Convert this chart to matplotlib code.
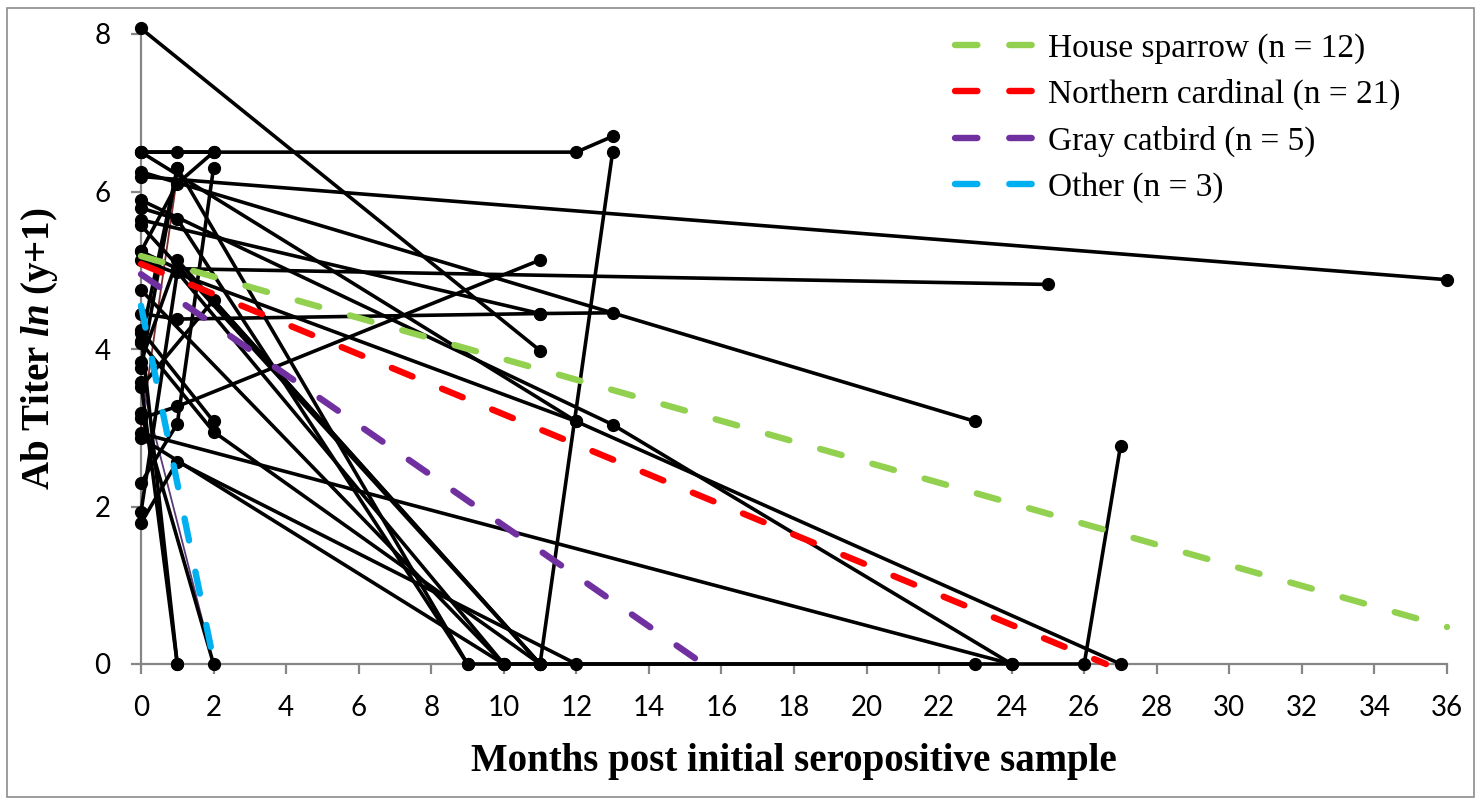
import matplotlib
matplotlib.use("Agg")
import matplotlib.pyplot as plt
from matplotlib.patches import Rectangle

plt.rcParams['font.family'] = ['Liberation Serif', 'DejaVu Serif']
plt.rcParams['mathtext.fontset'] = 'custom'
plt.rcParams['mathtext.rm'] = 'Liberation Serif:bold'
plt.rcParams['mathtext.it'] = 'Liberation Serif:bold:italic'

##### individual birds: months after first positive sample, ln(titer+1)
bird_months = [
    [0, 11], [0, 12, 13], [0, 1, 2], [0, 36], [0, 23],
    [0, 13, 24], [0, 12, 27], [0, 1, 25], [0, 1, 11, 13], [0, 11],
    [0, 1, 11], [0, 24], [0, 1, 9, 23], [0, 10, 26, 27], [0, 11, 13],
    [0, 2, 11], [0, 2], [0, 1, 12], [0, 10], [0, 1, 11],
    [0, 2, 11], [0, 1, 10], [0, 1, 9], [0, 1], [0, 1],
    [0, 2], [0, 1, 2], [0, 1], [0, 12], [0, 1, 2],
]
bird_titers = [
    [8.07, 3.98], [6.5, 6.5, 6.7], [6.5, 6.5, 6.5], [6.19, 4.88], [6.25, 3.08],
    [5.89, 3.04, 0], [6.5, 3.08, 0], [5.24, 5.02, 4.82], [4.45, 4.38, 4.45, 4.46], [5.64, 4.45],
    [3.12, 3.27, 5.13], [2.93, 0], [5.79, 5.65, 0, 0], [4.75, 0, 0, 2.77], [5.57, 0, 6.5],
    [4.08, 2.95, 0], [4.24, 3.08], [1.79, 2.57, 0], [2.87, 0], [3.84, 5.13, 0],
    [3.52, 4.62, 0], [1.93, 4.98, 0], [3.76, 6.3, 0], [4.2, 0], [3.58, 0],
    [3.19, 0], [2.3, 3.05, 6.3], [4.1, 6.3], [5.13, 3.08], [5.24, 6.1, 6.5],
]

# two birds drawn in thin colour in the original
thin_months = [[0, 1], [0, 2]]
thin_titers = [[3.0, 6.2], [3.6, 0]]
thin_colors = ['#7b2c2c', '#5a3a78']

# species trend lines (end points)
species = ['House sparrow (n = 12)', 'Northern cardinal (n = 21)',
           'Gray catbird (n = 5)', 'Other (n = 3)']
trend_x = [[0, 36], [0, 26.6], [0, 15.5], [0, 2.02]]
trend_y = [[5.18, 0.47], [5.08, 0], [4.95, 0], [4.55, 0]]
trend_colors = ['#92d050', '#ff0000', '#7030a0', '#00b0f0']

W, H = 1479, 801
fig = plt.figure(figsize=(W / 100, H / 100), dpi=100)
ax = fig.add_axes([141 / W, (H - 664) / H, (1447 - 141) / W, (664 - 34) / H])

for mx, ty in zip(bird_months, bird_titers):
    ax.plot(mx, ty, color='black', lw=2.6, marker='o', ms=8.5,
            clip_on=False, zorder=3)
for mx, ty, c in zip(thin_months, thin_titers, thin_colors):
    ax.plot(mx, ty, color=c, lw=1.3, clip_on=False, zorder=2.8)

handles = []
for mx, ty, c, lab in zip(trend_x, trend_y, trend_colors, species):
    ln, = ax.plot(mx, ty, color=c, lw=4.6, dashes=(3.5, 5.0),
                  dash_capstyle='round', label=lab, clip_on=False, zorder=4)
    handles.append(ln)

ax.set_xlim(0, 36)
ax.set_ylim(0, 8)
ax.set_xticks(range(0, 37, 2))
ax.set_yticks(range(0, 9, 2))
for s in ['top', 'right']:
    ax.spines[s].set_visible(False)
for s in ['left', 'bottom']:
    ax.spines[s].set_color('#868686')
    ax.spines[s].set_linewidth(1.6)
    ax.spines[s].set_zorder(1)
ax.tick_params(axis='both', direction='out', length=7, width=1.6, color='#868686')
ax.tick_params(axis='x', pad=15)
ax.tick_params(axis='y', pad=15)
for lab in ax.get_xticklabels() + ax.get_yticklabels():
    lab.set_fontfamily('Lato')
    lab.set_fontsize(20)

ax.set_xlabel('Months post initial seropositive sample', fontsize=28, fontweight='bold')
ax.xaxis.set_label_coords(0.5, -(762 - 664) / 630)
ax.xaxis.label.set_verticalalignment('center')
ax.set_ylabel('Ab Titer $\\mathit{ln}$ (y+1)', fontsize=28, fontweight='bold')
ax.yaxis.set_label_coords(-(141 - 40) / 1306, 0.5)
ax.yaxis.label.set_verticalalignment('center')

leg = fig.legend(handles=handles, loc='upper left',
                 bbox_to_anchor=(955 / W, 1 - 33 / H), frameon=False,
                 fontsize=24, handlelength=2.5, handletextpad=0.3,
                 labelspacing=0.46, borderpad=0, borderaxespad=0)

# thin grey frame round the whole picture
fig.patches.append(Rectangle((7 / W, 4 / H), 1 - 12 / W, 1 - 12 / H,
                             transform=fig.transFigure, fill=False,
                             edgecolor='#8c8c8c', lw=1.2))

fig.savefig('out.png', dpi=100)
